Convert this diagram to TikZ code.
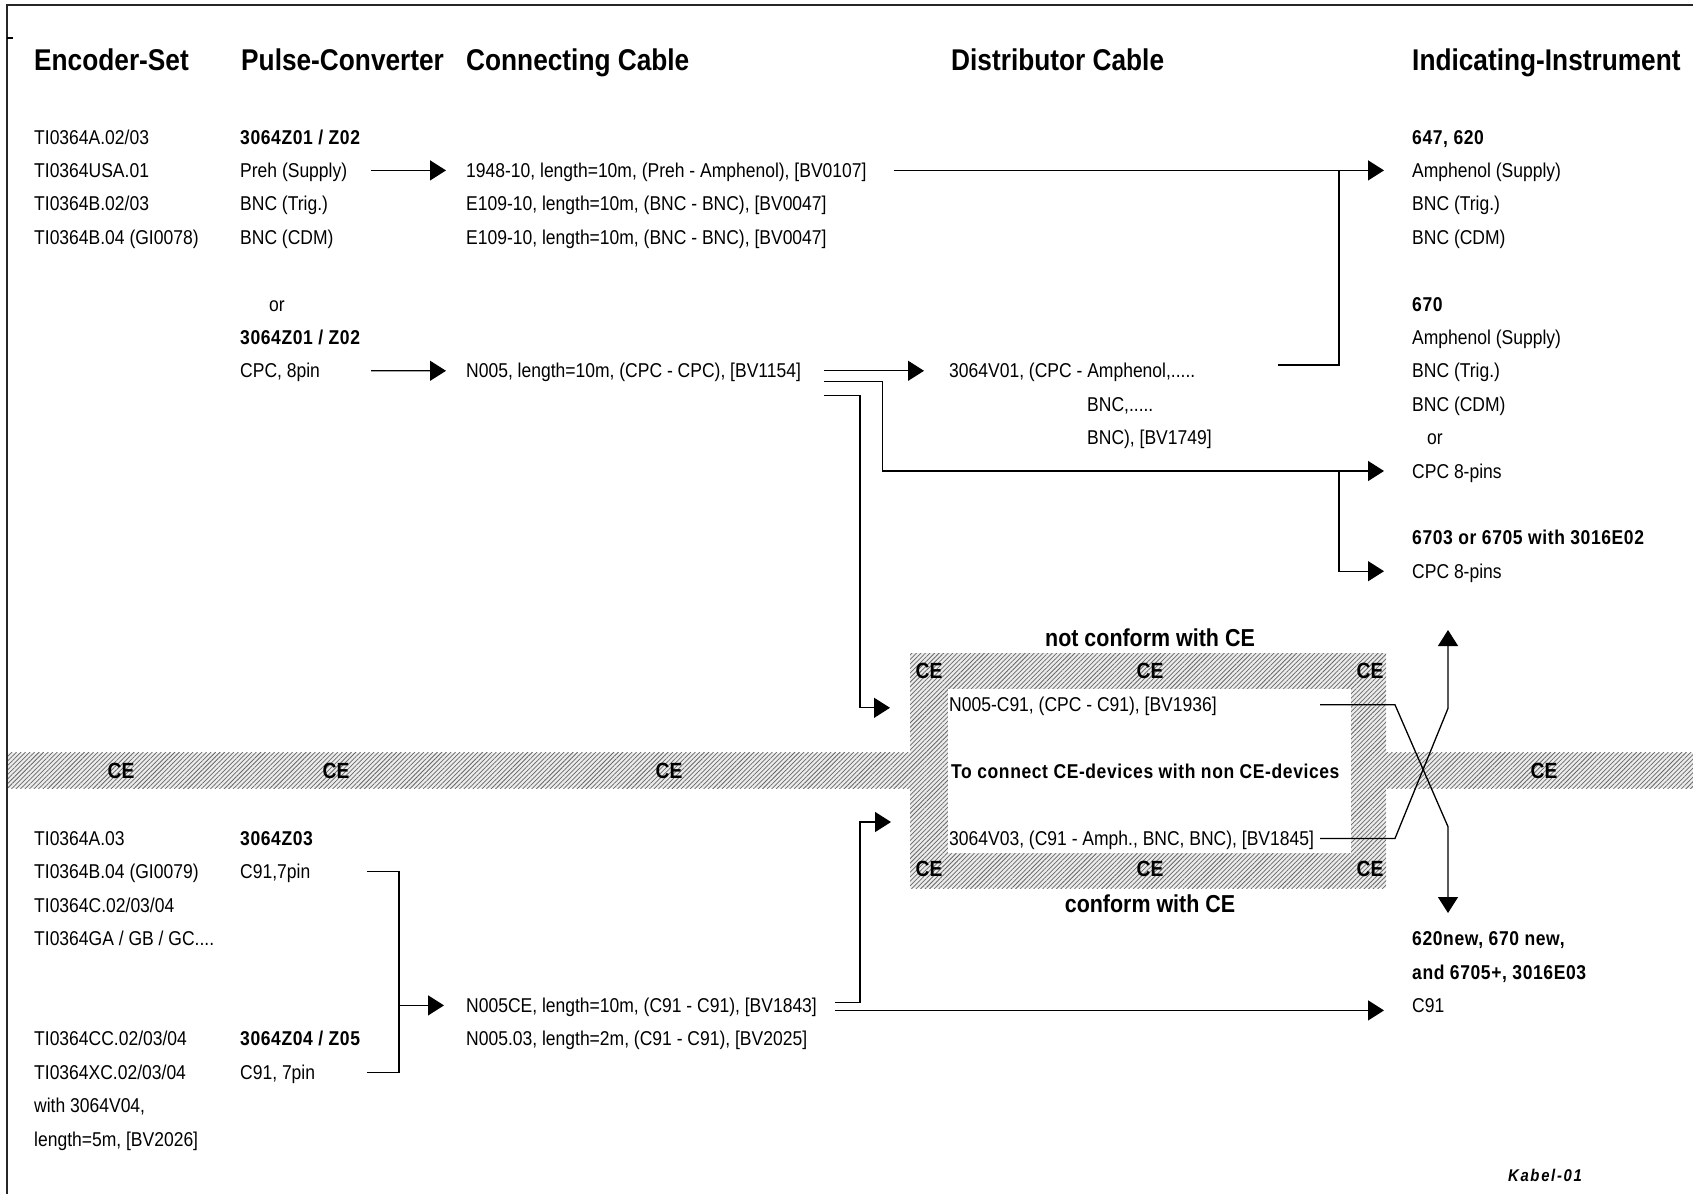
\documentclass[tikz,border=0pt]{standalone}
\usepackage{fontspec}
\setmainfont{Liberation Sans}[FakeStretch=0.875]
\newfontfamily\strongfont{Liberation Sans}[FakeStretch=0.875,LetterSpace=3]
\newfontfamily\stampfont{Liberation Sans}[FakeStretch=0.875,LetterSpace=10]
\usetikzlibrary{positioning,arrows.meta,patterns.meta}

\tikzset{
  plain/.style={inner sep=0pt, anchor=west, text height=14.3pt, text depth=0pt,
    font=\fontsize{20}{24}\selectfont},
  strong/.style={plain, font=\strongfont\fontsize{20}{24}\selectfont\bfseries},
  heading/.style={plain, text height=21.5pt, font=\fontsize{30}{36}\selectfont\bfseries},
  ce_mark/.style={inner sep=0pt, text height=15.8pt, text depth=0pt,
    font=\fontsize{22}{26}\selectfont\bfseries},
  ce_note/.style={inner sep=0pt, text height=17.5pt, text depth=0pt,
    font=\fontsize{24.5}{28}\selectfont\bfseries},
  wire/.style={line width=1.3pt},
  link/.style={wire, -{Triangle[length=16pt,width=20pt]}},
  hatched/.style={pattern={Lines[angle=45,distance=3.2pt,line width=0.75pt]},
    pattern color=black!60},
}

\begin{document}
\begin{tikzpicture}[x=1pt, y=-1pt, node distance=33.4pt, on grid]
\useasboundingbox (0,0) rectangle (1693,1194);

% Frame
\draw[line width=2.2pt, black!85] (1693,5) -- (7,5) -- (7,1194);
\draw[line width=1.5pt] (7,38) -- (13,38);

%%%%%%%%%%%%%%%%%%%
% CE zones

\fill[gray!15] (8,752.7) rectangle (1693,788.3);
\fill[hatched] (8,752.7) rectangle (1693,788.3);
\fill[gray!15] (910,653) rectangle (1386,888.3);
\fill[hatched] (910,653) rectangle (1386,888.3);
\fill[white] (947.6,688.5) rectangle (1350.5,852.7);

\node[ce_mark] (ce_band_a) at (121,771) {CE};
\node[ce_mark] (ce_band_b) at (336,771) {CE};
\node[ce_mark] (ce_band_c) at (669,771) {CE};
\node[ce_mark] (ce_band_d) at (1544,771) {CE};
\node[ce_mark] (ce_top_l) at (929,670.7) {CE};
\node[ce_mark] (ce_top_m) at (1150,670.7) {CE};
\node[ce_mark] (ce_top_r) at (1370,670.7) {CE};
\node[ce_mark] (ce_bot_l) at (929,869) {CE};
\node[ce_mark] (ce_bot_m) at (1150,869) {CE};
\node[ce_mark] (ce_bot_r) at (1370,869) {CE};

\node[ce_note] (note_not) at (1150,638) {not conform with CE};
\node[ce_note] (note_conform) at (1150,904) {conform with CE};

%%%%%%%%%%%%%%%%%%%
% Column heads

\node[heading] (head_encoder) at (34,60) {Encoder-Set};
\node[heading] (head_converter) at (241,60) {Pulse-Converter};
\node[heading] (head_connecting) at (466,60) {Connecting Cable};
\node[heading] (head_distributor) at (951,60) {Distributor Cable};
\node[heading] (head_indicator) at (1412,60) {Indicating-Instrument};

%%%%%%%%%%%%%%%%%%%
% Encoder sets

\node[plain] (enc_a0203) at (34,137) {TI0364A.02/03};
\node[plain, below=of enc_a0203.west, anchor=west] (enc_usa01) {TI0364USA.01};
\node[plain, below=of enc_usa01.west, anchor=west] (enc_b0203) {TI0364B.02/03};
\node[plain, below=of enc_b0203.west, anchor=west] (enc_b04) {TI0364B.04 (GI0078)};

\node[plain] (enc_a03) at (34,838.4) {TI0364A.03};
\node[plain, below=of enc_a03.west, anchor=west] (enc_b04ce) {TI0364B.04 (GI0079)};
\node[plain, below=of enc_b04ce.west, anchor=west] (enc_c) {TI0364C.02/03/04};
\node[plain, below=of enc_c.west, anchor=west] (enc_g) {TI0364GA / GB / GC....};
\node[plain, below=100.2pt of enc_g.west, anchor=west] (enc_cc) {TI0364CC.02/03/04};
\node[plain, below=of enc_cc.west, anchor=west] (enc_xc) {TI0364XC.02/03/04};
\node[plain, below=of enc_xc.west, anchor=west] (enc_with) {with 3064V04,};
\node[plain, below=of enc_with.west, anchor=west] (enc_len) {length=5m, [BV2026]};

%%%%%%%%%%%%%%%%%%%
% Pulse converters

\node[strong] (conv_z0102) at (240,137) {3064Z01 / Z02};
\node[plain, below=of conv_z0102.west, anchor=west] (conv_preh) {Preh (Supply)};
\node[plain, below=of conv_preh.west, anchor=west] (conv_trig) {BNC (Trig.)};
\node[plain, below=of conv_trig.west, anchor=west] (conv_cdm) {BNC (CDM)};
\node[plain] (conv_or) at (269,304) {or};
\node[strong] (conv_z0102b) at (240,337.4) {3064Z01 / Z02};
\node[plain, below=of conv_z0102b.west, anchor=west] (conv_cpc) {CPC, 8pin};

\node[strong] (conv_z03) at (240,838.4) {3064Z03};
\node[plain, below=of conv_z03.west, anchor=west] (conv_c91a) {C91,7pin};
\node[strong] (conv_z0405) at (240,1038.8) {3064Z04 / Z05};
\node[plain, below=of conv_z0405.west, anchor=west] (conv_c91b) {C91, 7pin};

%%%%%%%%%%%%%%%%%%%
% Connecting cables

\node[plain] (cab_1948) at (466,170.4) {1948-10, length=10m, (Preh - Amphenol), [BV0107]};
\node[plain, below=of cab_1948.west, anchor=west] (cab_e109a) {E109-10, length=10m, (BNC - BNC), [BV0047]};
\node[plain, below=of cab_e109a.west, anchor=west] (cab_e109b) {E109-10, length=10m, (BNC - BNC), [BV0047]};
\node[plain] (cab_n005) at (466,370.8) {N005, length=10m, (CPC - CPC), [BV1154]};
\node[plain] (cab_n005ce) at (466,1005.4) {N005CE, length=10m, (C91 - C91), [BV1843]};
\node[plain, below=of cab_n005ce.west, anchor=west] (cab_n00503) {N005.03, length=2m, (C91 - C91), [BV2025]};

%%%%%%%%%%%%%%%%%%%
% Distributor cables

\node[plain] (dist_v01) at (949,370.8) {3064V01, (CPC - Amphenol,.....};
\node[plain] (dist_v01_bnc) at (1087,404.2) {BNC,.....};
\node[plain, below=of dist_v01_bnc.west, anchor=west] (dist_v01_end) {BNC), [BV1749]};
\node[plain] (dist_c91) at (949,704.8) {N005-C91, (CPC - C91), [BV1936]};
\node[strong] (dist_note) at (951,771.6) {To connect CE-devices with non CE-devices};
\node[plain] (dist_v03) at (949,838.4) {3064V03, (C91 - Amph., BNC, BNC), [BV1845]};

%%%%%%%%%%%%%%%%%%%
% Indicating instruments

\node[strong] (ind_647) at (1412,137) {647, 620};
\node[plain, below=of ind_647.west, anchor=west] (ind_647_sup) {Amphenol (Supply)};
\node[plain, below=of ind_647_sup.west, anchor=west] (ind_647_trig) {BNC (Trig.)};
\node[plain, below=of ind_647_trig.west, anchor=west] (ind_647_cdm) {BNC (CDM)};

\node[strong] (ind_670) at (1412,304) {670};
\node[plain, below=of ind_670.west, anchor=west] (ind_670_sup) {Amphenol (Supply)};
\node[plain, below=of ind_670_sup.west, anchor=west] (ind_670_trig) {BNC (Trig.)};
\node[plain, below=of ind_670_trig.west, anchor=west] (ind_670_cdm) {BNC (CDM)};
\node[plain] (ind_or) at (1427,437.6) {or};
\node[plain] (ind_cpc) at (1412,471) {CPC 8-pins};

\node[strong] (ind_6703) at (1412,537.8) {6703 or 6705 with 3016E02};
\node[plain, below=of ind_6703.west, anchor=west] (ind_6703_cpc) {CPC 8-pins};

\node[strong] (ind_new) at (1412,938.6) {620new, 670 new,};
\node[strong, below=of ind_new.west, anchor=west] (ind_new2) {and 6705+, 3016E03};
\node[plain, below=of ind_new2.west, anchor=west] (ind_c91) {C91};

\node[inner sep=0pt, font=\stampfont\fontsize{17}{20}\selectfont\bfseries\itshape] (stamp) at (1545,1175) {Kabel-01};

%%%%%%%%%%%%%%%%%%%
% Connections

\coordinate (conv_out) at (371,0);
\coordinate (v01_out) at (1278,365);
\coordinate (join_647) at (1339,170.4);
\coordinate (drop_cpc) at (882.5,0);
\coordinate (drop_6703) at (1339,0);
\coordinate (box_in) at (860,0);
\coordinate (box_low) at (891,822);
\coordinate (brk_in) at (367,0);
\coordinate (brk_x) at (399,0);
\coordinate (x_in) at (1320,0);
\coordinate (bend_a) at (1395,0);
\coordinate (bend_b) at (1448,826.7);
\coordinate (bend_c) at (1448,708.3);
\coordinate (tip_down) at (1448,913);
\coordinate (tip_up) at (1448,630);

\draw[link] (conv_preh -| conv_out) -- ([xshift=-20pt]cab_1948.west);
\draw[link] (conv_cpc -| conv_out) -- ([xshift=-20pt]cab_n005.west);

\draw[link] ([xshift=27pt]cab_1948.east) -- ([xshift=-28pt]ind_647_sup.west);
\draw[wire] (v01_out) -| (join_647);

\draw[link] ([xshift=23pt]cab_n005.east) -- ([xshift=-25pt]dist_v01.west);
\draw[link] ([xshift=23pt,yshift=-11pt]cab_n005.east) -| (drop_cpc |- ind_cpc.west)
    -- ([xshift=-28pt]ind_cpc.west);
\draw[link] (drop_6703 |- ind_cpc.west) |- ([xshift=-28pt]ind_6703_cpc.west);
\draw[link] ([xshift=23pt,yshift=-25pt]cab_n005.east) -| ([yshift=-3pt]box_in |- dist_c91.west)
    -- ([xshift=-59pt,yshift=-3pt]dist_c91.west);

\draw[wire] (conv_c91a -| brk_in) -| (brk_x |- conv_c91b) -- (conv_c91b -| brk_in);
\draw[link] (brk_x |- cab_n005ce.west) -- ([xshift=-22pt]cab_n005ce.west);

\draw[link] ([xshift=18pt,yshift=3pt]cab_n005ce.east) -| (box_in |- box_low) -- (box_low);
\draw[link] ([xshift=18pt,yshift=-5pt]cab_n005ce.east) -- ([xshift=-28pt,yshift=-5pt]ind_c91.west);

\draw[link] (dist_c91.west -| x_in) -- (dist_c91.west -| bend_a) -- (bend_b) -- (tip_down);
\draw[link] (dist_v03.west -| x_in) -- (dist_v03.west -| bend_a) -- (bend_c) -- (tip_up);

\end{tikzpicture}
\end{document}
